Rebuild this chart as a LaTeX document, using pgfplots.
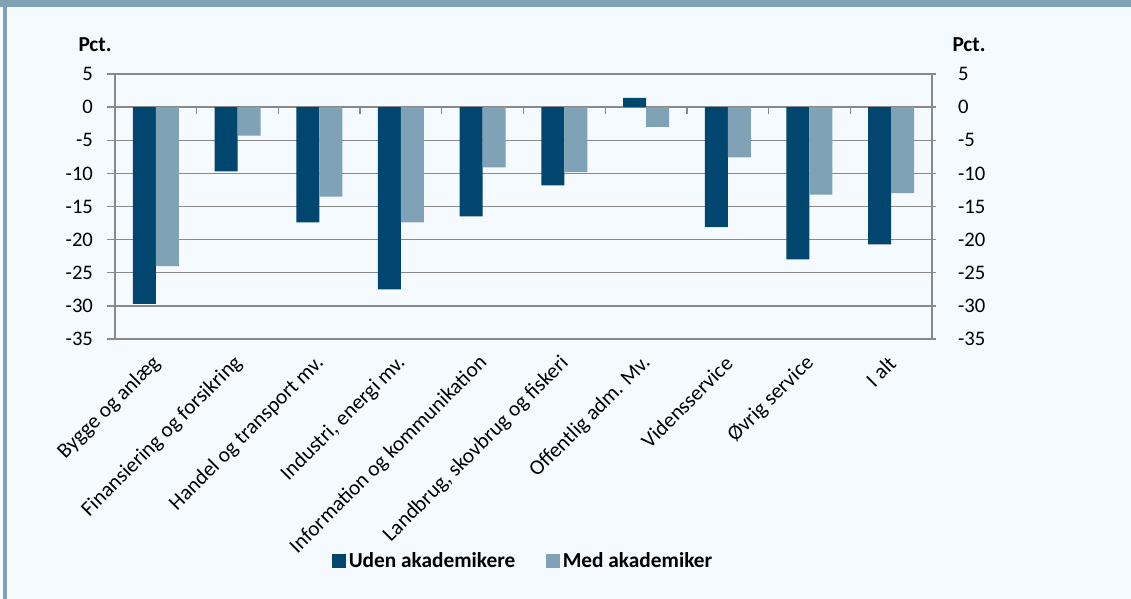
\documentclass[border=0pt]{standalone}
\usepackage{fontspec}
\setmainfont{Carlito}
\usepackage{pgfplots}
\usepackage{pgfplotstable}
\pgfplotsset{compat=1.18}

\definecolor{darkbar}{RGB}{0,70,110}
\definecolor{lightbar}{RGB}{128,162,183}
\definecolor{bgcol}{RGB}{245,250,254}
\definecolor{framecol}{RGB}{128,162,183}
\definecolor{gridgray}{RGB}{137,137,137}

\newcommand{\tickfont}{\fontsize{15.5}{18}\selectfont}
\newcommand{\lblfont}{\fontsize{16}{19}\selectfont}

\pgfplotsset{
  /pgfplots/ybar legend/.style={/pgfplots/legend image code/.code={\fill[##1] (0pt,-5.25pt) rectangle (10.5pt,5.25pt);}},
  common/.style={
    at={(86.25pt,195pt)}, anchor=south west,
    scale only axis, width=612.75pt, height=198.75pt,
    xmin=-0.5, xmax=9.5, ymin=-35, ymax=5, ytick={-35,-30,...,5},
    tick align=outside, major tick length=6pt,
    /pgf/number format/assume math mode=true,
    tick label style={font=\tickfont, text=black},
  },
}

% share (pct.) per sector
\pgfplotstableread{
x uden med
0 -29.7 -24.0
1 -9.7 -4.3
2 -17.4 -13.5
3 -27.5 -17.4
4 -16.5 -9.1
5 -11.8 -9.8
6 1.4 -3.0
7 -18.1 -7.6
8 -23.0 -13.2
9 -20.7 -13.0
}\datatable

\begin{document}
\begin{tikzpicture}
\fill[bgcol] (0,0) rectangle (848.25pt,449.25pt);
\useasboundingbox (0,0) rectangle (848.25pt,449.25pt);
\fill[framecol] (0,444pt) rectangle (848.25pt,449.25pt);
\fill[framecol] (2.5pt,0) rectangle (5.25pt,449.25pt);

\begin{axis}[common,
  axis line style={draw=gridgray, line width=1pt},
  ymajorgrids, grid style={draw=gridgray, line width=1pt},
  ytick pos=left, yticklabel pos=left,
  ytick style={draw=gridgray, line width=1pt},
  yticklabel style={xshift=-7pt},
  xtick={0,...,9}, xtick style={draw=none},
  xticklabels={Bygge og anlæg, Finansiering og forsikring, Handel og transport mv., {Industri, energi mv.}, Information og kommunikation, {Landbrug, skovbrug og fiskeri}, Offentlig adm. Mv., Vidensservice, Øvrig service, I alt},
  xticklabel style={rotate=45, anchor=east, font=\lblfont, xshift=-2.75pt, yshift=-7.5pt},
  ybar=0pt, bar width=17.25pt,
  legend style={at={(0.5,-0.838)}, anchor=center, draw=none, fill=none,
    legend columns=2, font=\bfseries\lblfont,
    /tikz/every even column/.append style={column sep=21pt}},
]
\addplot[fill=darkbar, draw=none] table[x=x,y=uden]{\datatable};
\addlegendentry{Uden akademikere}
\addplot[fill=lightbar, draw=none] table[x=x,y=med]{\datatable};
\addlegendentry{Med akademiker}
\end{axis}

% right-hand y axis
\begin{axis}[common,
  axis x line=none, axis y line=right,
  axis line style={draw=gridgray, line width=1pt, -},
  tick style={draw=gridgray, line width=1pt},
  yticklabel style={xshift=13pt},
]
\end{axis}

% category separators on the zero line
\begin{axis}[at={(86.25pt,368.906pt)}, anchor=south west,
  scale only axis, width=612.75pt, height=24.844pt,
  xmin=-0.5, xmax=9.5, ymin=0, ymax=5,
  axis x line=bottom, axis y line=none,
  axis line style={draw=none},
  xtick={-0.5,0.5,...,9.5}, xticklabels={},
  tick align=outside, major tick length=5pt,
  tick style={draw=gridgray, line width=1pt},
]
\end{axis}

\node[font=\bfseries\lblfont] at (71.25pt,415.5pt) {Pct.};
\node[font=\bfseries\lblfont] at (726.75pt,415.5pt) {Pct.};
\end{tikzpicture}
\end{document}
